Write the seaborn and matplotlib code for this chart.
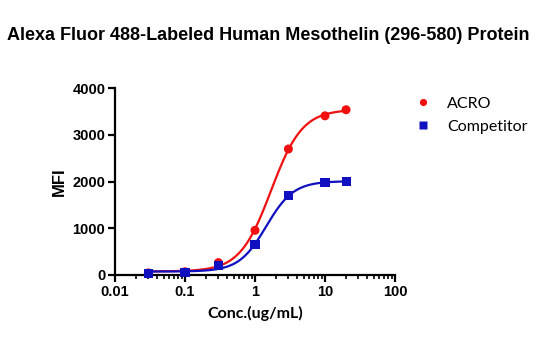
import numpy as np
import pandas as pd
import matplotlib
matplotlib.use("Agg")
import matplotlib.pyplot as plt
import matplotlib.ticker as mticker
import seaborn as sns

# Concentrations (ug/mL) and mean fluorescence intensity per sample
conc = [0.03, 0.1, 0.3, 1, 3, 10, 20]
acro_mfi = [45, 70, 265, 956, 2695, 3405, 3535]
competitor_mfi = [40, 60, 195, 648, 1705, 1968, 2004]
series_names = ["ACRO", "Competitor"]
colors = {"ACRO": "#f01010", "Competitor": "#1010c0"}
markers = {"ACRO": "o", "Competitor": "s"}
y_ticks = [0, 1000, 2000, 3000, 4000]
x_ticks = [0.01, 0.1, 1, 10, 100]


def fit_4pl(x, y):
    """Four-parameter logistic fit: grid over log EC50 and Hill slope,
    bottom/top solved by linear least squares."""
    lx = np.log10(np.asarray(x, float))
    y = np.asarray(y, float)
    best = None
    for lec in np.linspace(-1.5, 1.5, 301):
        for h in np.linspace(0.5, 4.0, 141):
            s = 1.0 / (1.0 + 10 ** ((lec - lx) * h))
            A = np.column_stack([1 - s, s])
            coef, *_ = np.linalg.lstsq(A, y, rcond=None)
            err = np.sum((A @ coef - y) ** 2)
            if best is None or err < best[0]:
                best = (err, lec, h, coef)
    _, lec, h, (bottom, top) = best
    return lambda xx: bottom + (top - bottom) / (1 + 10 ** ((lec - np.log10(xx)) * h))


points = pd.DataFrame({
    "conc": conc * 2,
    "mfi": acro_mfi + competitor_mfi,
    "sample": ["ACRO"] * len(conc) + ["Competitor"] * len(conc),
})

curve_frames = []
xs = np.logspace(np.log10(min(conc)), np.log10(max(conc)), 300)
for name, vals in zip(series_names, [acro_mfi, competitor_mfi]):
    f = fit_4pl(conc, vals)
    curve_frames.append(pd.DataFrame({"conc": xs, "mfi": f(xs), "sample": name}))
curves = pd.concat(curve_frames, ignore_index=True)

sns.set_style("white")
plt.rcParams["font.family"] = ["Liberation Sans", "DejaVu Sans"]
for key in ["text.color", "axes.labelcolor", "xtick.color", "ytick.color"]:
    plt.rcParams[key] = "black"

W, H = 537, 340
fig = plt.figure(figsize=(W / 100, H / 100), dpi=100)
ax = fig.add_axes([115 / W, 1 - 275 / H, 280 / W, 187 / H])

sns.lineplot(data=curves, x="conc", y="mfi", hue="sample", palette=colors,
             linewidth=1.6, legend=False, ax=ax, sort=False)
sns.scatterplot(data=points, x="conc", y="mfi", hue="sample", style="sample",
                palette=colors, markers=markers, s=42, edgecolor="none",
                ax=ax, zorder=3, clip_on=False)

ax.set_xscale("log")
ax.set_xlim(0.01, 100)
ax.set_ylim(0, 4000)
ax.set_xticks(x_ticks)
ax.xaxis.set_major_formatter(mticker.FixedFormatter([str(t) for t in x_ticks]))
ax.xaxis.set_minor_locator(mticker.LogLocator(base=10, subs=np.arange(2, 10)))
ax.xaxis.set_minor_formatter(mticker.NullFormatter())
ax.set_yticks(y_ticks)

for side in ["top", "right"]:
    ax.spines[side].set_visible(False)
for side in ["left", "bottom"]:
    ax.spines[side].set_linewidth(1.6)
    ax.spines[side].set_color("black")

ax.tick_params(axis="both", which="major", direction="out", length=5, width=1.6,
               labelsize=10.5, colors="black", pad=2, bottom=True, left=True)
ax.tick_params(axis="x", which="minor", direction="out", length=3, width=1.2,
               bottom=True)
for lab in ax.get_xticklabels() + ax.get_yticklabels():
    lab.set_fontweight("bold")

ax.set_xlabel("Conc.(ug/mL)", fontsize=11.5, fontweight="bold", labelpad=5,
              family=["Lato", "DejaVu Sans"])
ax.set_ylabel("MFI", fontsize=12, fontweight="bold", labelpad=4)

fig.suptitle("Alexa Fluor 488-Labeled Human Mesothelin (296-580) Protein",
             x=0.5, y=1 - 36 / H, va="center", fontsize=13, fontweight="bold")

handles, labels = ax.get_legend_handles_labels()
ax.legend(handles, labels, loc="upper left",
          bbox_to_anchor=(407 / W, 1 - 90 / H), bbox_transform=fig.transFigure,
          frameon=False, handlelength=1.2, handletextpad=0.9, labelspacing=0.55,
          markerscale=0.8, borderaxespad=0, prop={"family": "Lato", "size": 11.5})

fig.savefig("out.png", dpi=100)
